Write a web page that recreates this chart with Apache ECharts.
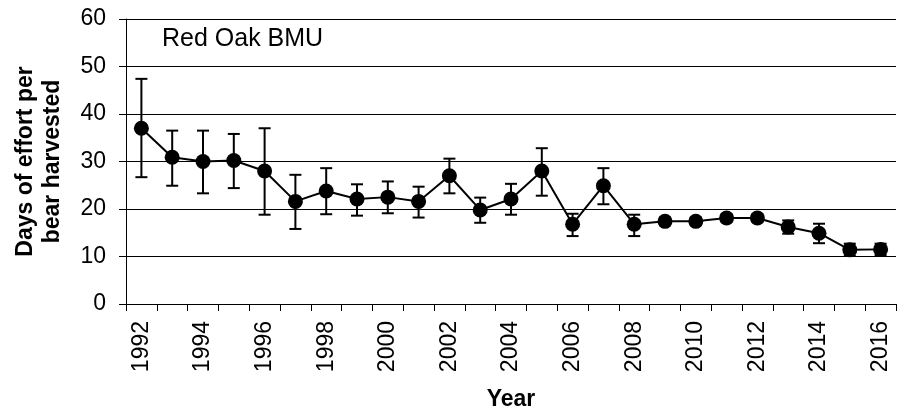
<!DOCTYPE html>
<html>
<head>
<meta charset="utf-8">
<script src="https://cdn.jsdelivr.net/npm/echarts@6/dist/echarts.min.js"></script>
<style>html,body{margin:0;padding:0;background:#fff;}#c{width:910px;height:413px;}</style>
</head>
<body>
<div id="c"></div>
<script>
const years = ['1992','1993','1994','1995','1996','1997','1998','1999','2000','2001','2002','2003','2004','2005','2006','2007','2008','2009','2010','2011','2012','2013','2014','2015','2016'];
const means = [37.0,30.9,30.0,30.2,28.0,21.6,23.8,22.1,22.5,21.6,27.0,19.8,22.1,28.0,16.8,24.9,16.8,17.4,17.4,18.1,18.1,16.2,14.9,11.4,11.5];
const upper = [47.4,36.5,36.5,35.8,37.0,27.2,28.6,25.2,25.8,24.7,30.6,22.4,25.3,32.8,19.0,28.6,18.8,18.2,18.2,18.9,18.9,17.6,16.9,12.7,12.7];
const lower = [26.7,24.9,23.3,24.4,18.8,15.8,18.9,18.6,19.1,18.2,23.3,17.1,18.8,22.8,14.3,21.0,14.3,16.6,16.6,17.3,17.3,14.8,12.8,10.1,10.3];
const yTicks = [0,10,20,30,40,50,60];

const errData = years.map((y,i)=>[i, lower[i], upper[i]]);
const chart = echarts.init(document.getElementById('c'));
const font = "'Liberation Sans', Arial, sans-serif";
chart.setOption({
  animation:false,
  grid:{left:126,right:14,top:19,bottom:109,containLabel:false,outerBoundsMode:'none'},
  graphic:[{type:'text',left:162,top:27,style:{text:'Red Oak BMU',font:'25px '+font,fill:'#000'}}],
  xAxis:{
    type:'category', data:years, boundaryGap:true,
    name:'Year', nameLocation:'middle', nameGap:84,
    nameTextStyle:{fontFamily:font,fontWeight:'bold',fontSize:23,color:'#000'},
    axisLine:{lineStyle:{color:'#000',width:1}},
    axisTick:{show:true,interval:0,length:7,lineStyle:{color:'#000'}},
    axisLabel:{interval:1,rotate:90,fontFamily:font,fontSize:23,color:'#000',margin:17},
    splitLine:{show:false}
  },
  yAxis:{
    type:'value', min:yTicks[0], max:yTicks[yTicks.length-1], interval:10,
    name:'Days of effort per\nbear harvested', nameLocation:'middle', nameGap:60,
    nameTextStyle:{fontFamily:font,fontWeight:'bold',fontSize:23,color:'#000',lineHeight:27},
    axisLine:{show:true,lineStyle:{color:'#000',width:1}},
    axisTick:{show:true,length:7,lineStyle:{color:'#000'}},
    axisLabel:{fontFamily:font,fontSize:23,color:'#000',margin:20},
    splitLine:{show:true,lineStyle:{color:'#000',width:1}}
  },
  series:[
    {
      type:'custom', data:errData, z:3,
      renderItem:function(params, api){
        const i = api.value(0);
        const lo = api.coord([i, api.value(1)]);
        const hi = api.coord([i, api.value(2)]);
        const w = 6;
        const st = {stroke:'#000', lineWidth:2};
        return {type:'group', children:[
          {type:'line', shape:{x1:lo[0],y1:lo[1],x2:hi[0],y2:hi[1]}, style:st},
          {type:'line', shape:{x1:lo[0]-w,y1:lo[1],x2:lo[0]+w,y2:lo[1]}, style:st},
          {type:'line', shape:{x1:hi[0]-w,y1:hi[1],x2:hi[0]+w,y2:hi[1]}, style:st}
        ]};
      }
    },
    {
      type:'line', data:means, z:4,
      symbol:'circle', symbolSize:15, showAllSymbol:true,
      lineStyle:{color:'#000',width:2},
      itemStyle:{color:'#000'}
    }
  ]
});
</script>
</body>
</html>
